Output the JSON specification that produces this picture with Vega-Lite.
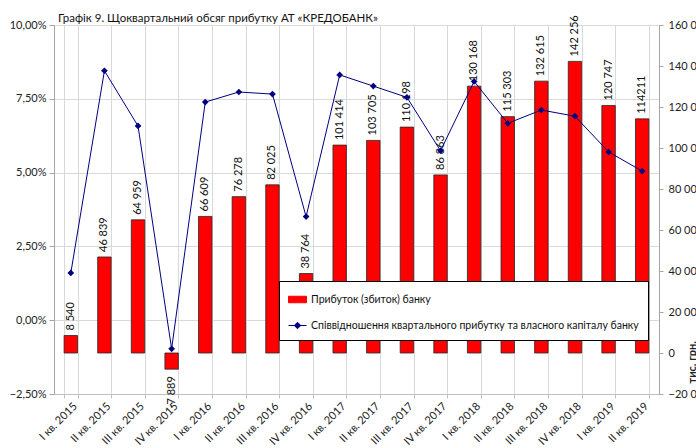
{
  "$schema": "https://vega.github.io/schema/vega-lite/v6.json",
  "autosize": {"type": "none"},
  "width": 605,
  "height": 369,
  "padding": {"left": 54, "top": 25, "right": 37, "bottom": 54},
  "background": "white",
  "config": {
    "locale": {"number": {"decimal": ",", "thousands": " ", "grouping": [3], "currency": ["", ""]}},
    "view": {"stroke": null},
    "font": "Lato"
  },
  "title": {"text": "Графік 9. Щоквартальний обсяг прибутку АТ «КРЕДОБАНК»", "anchor": "start", "frame": "group", "fontSize": 11.5, "fontWeight": 400, "font": "Lato", "color": "#111", "offset": 5, "dx": 4, "dy": 14},
  "data": {"values": [
    {"q": "I кв. 2015", "profit": 8540, "ratio": 0.0160, "label": "8 540"},
    {"q": "II кв. 2015", "profit": 46839, "ratio": 0.0845, "label": "46 839"},
    {"q": "III кв. 2015", "profit": 64959, "ratio": 0.0658, "label": "64 959"},
    {"q": "IV кв. 2015", "profit": -7889, "ratio": -0.0097, "label": "-7 889"},
    {"q": "I кв. 2016", "profit": 66609, "ratio": 0.0739, "label": "66 609"},
    {"q": "II кв. 2016", "profit": 76278, "ratio": 0.0773, "label": "76 278"},
    {"q": "III кв. 2016", "profit": 82025, "ratio": 0.0766, "label": "82 025"},
    {"q": "IV кв. 2016", "profit": 38764, "ratio": 0.0351, "label": "38 764"},
    {"q": "I кв. 2017", "profit": 101414, "ratio": 0.0831, "label": "101 414"},
    {"q": "II кв. 2017", "profit": 103705, "ratio": 0.0793, "label": "103 705"},
    {"q": "III кв. 2017", "profit": 110198, "ratio": 0.0755, "label": "110 198"},
    {"q": "IV кв. 2017", "profit": 86863, "ratio": 0.0574, "label": "86 863"},
    {"q": "I кв. 2018", "profit": 130168, "ratio": 0.0809, "label": "130 168"},
    {"q": "II кв. 2018", "profit": 115303, "ratio": 0.0667, "label": "115 303"},
    {"q": "III кв. 2018", "profit": 132615, "ratio": 0.0712, "label": "132 615"},
    {"q": "IV кв. 2018", "profit": 142256, "ratio": 0.0691, "label": "142 256"},
    {"q": "I кв. 2019", "profit": 120747, "ratio": 0.0570, "label": "120 747"},
    {"q": "II кв. 2019", "profit": 114211, "ratio": 0.0505, "label": "114211"}
  ]},
  "encoding": {
    "x": {
      "field": "q", "type": "nominal", "sort": null,
      "scale": {"paddingInner": 0.6, "paddingOuter": 0.3},
      "axis": {"title": null, "labelAngle": -45, "labelFont": "Lato", "labelFontSize": 11, "labelColor": "#222", "tickBand": "extent", "grid": true, "gridColor": "#d9d9d9", "ticks": true, "tickColor": "#bfbfbf", "tickSize": 4, "domainColor": "#bfbfbf", "labelPadding": 2}
    }
  },
  "layer": [
    {
      "encoding": {
        "y": {
          "field": "profit", "type": "quantitative",
          "scale": {"domain": [-20000, 160000], "nice": false},
          "axis": {"orient": "right", "values": [-20000, 0, 20000, 40000, 60000, 80000, 100000, 120000, 140000, 160000], "format": ",d", "grid": false, "tickSize": 4, "tickColor": "#a6a6a6", "domainColor": "#a6a6a6", "labelFont": "Lato", "labelFontSize": 11, "labelColor": "#222", "labelPadding": 5, "title": "тис. грн.", "titleAngle": 270, "titleAlign": "left", "titleBaseline": "middle", "titleX": 33, "titleY": 358, "titleFont": "Lato", "titleFontSize": 11, "titleFontWeight": "bold", "titleColor": "#222"}
        }
      },
      "layer": [
        {
          "mark": {"type": "bar", "stroke": "#262626", "strokeWidth": 0.8},
          "encoding": {
            "color": {
              "datum": "Прибуток (збиток)  банку", "type": "nominal",
              "scale": {"domain": ["Прибуток (збиток)  банку", "Співвідношення квартального прибутку та власного капіталу банку"], "range": ["#FF0000", "#000080"]},
              "legend": {
                "title": null, "orient": "none", "direction": "vertical", "legendX": 225, "legendY": 256,
                "fillColor": "white", "strokeColor": "#000", "padding": 9, "rowPadding": 11,
                "labelFont": "Lato", "labelFontSize": 10.5, "labelColor": "#111", "labelOffset": 4, "labelLimit": 500, "symbolSize": 324,
                "encoding": {
                  "symbols": {
                    "shape": {"value": {"expr": "datum.index == 0 ? 'M-1,-0.36H1V0.36H-1Z' : 'M-1,0H1M0,-0.36L0.36,0L0,0.36L-0.36,0Z'"}},
                    "fill": {"value": {"expr": "datum.index == 0 ? '#FF0000' : '#000080'"}},
                    "stroke": {"value": {"expr": "datum.index == 0 ? '#000000' : '#000080'"}},
                    "strokeWidth": {"value": 1},
                    "opacity": {"value": 1}
                  }
                }
              }
            }
          }
        },
        {
          "transform": [{"filter": "datum.profit >= 0"}],
          "mark": {"type": "text", "angle": -90, "align": "left", "baseline": "middle", "dx": 5, "fontSize": 11, "font": "Lato", "color": "#111"},
          "encoding": {"text": {"field": "label", "type": "nominal"}}
        },
        {
          "transform": [{"filter": "datum.profit < 0"}],
          "mark": {"type": "text", "angle": -90, "align": "right", "baseline": "middle", "dx": -7, "fontSize": 11, "font": "Lato", "color": "#111"},
          "encoding": {"text": {"field": "label", "type": "nominal"}}
        }
      ]
    },
    {
      "mark": {"type": "line", "strokeWidth": 1, "point": {"shape": "diamond", "size": 45, "filled": true}},
      "encoding": {
        "y": {
          "field": "ratio", "type": "quantitative",
          "scale": {"domain": [-0.025, 0.1], "nice": false},
          "axis": {"orient": "left", "values": [-0.025, 0, 0.025, 0.05, 0.075, 0.1], "format": ".2%", "grid": true, "gridColor": "#d9d9d9", "tickSize": 5, "tickColor": "#a6a6a6", "domainColor": "#a6a6a6", "labelFont": "Lato", "labelFontSize": 11, "labelColor": "#222", "labelPadding": 3, "title": null}
        },
        "color": {"datum": "Співвідношення квартального прибутку та власного капіталу банку", "type": "nominal"}
      }
    }
  ],
  "resolve": {"scale": {"y": "independent"}}
}
